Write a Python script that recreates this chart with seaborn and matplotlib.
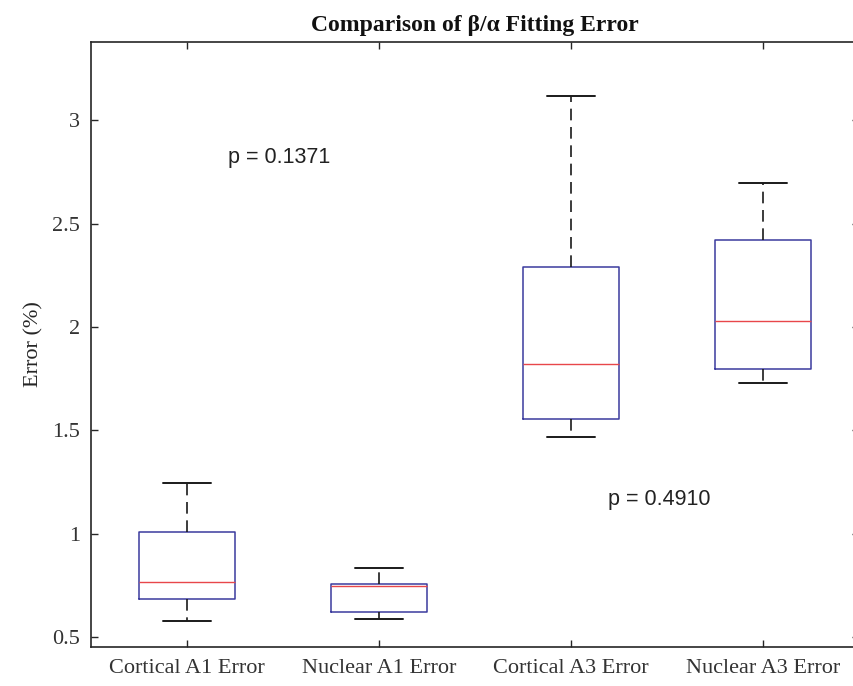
import numpy as np
import pandas as pd
import matplotlib
matplotlib.use("Agg")
import matplotlib.pyplot as plt
import seaborn as sns

# Five-number summaries of the fitting error (%) for each group
categories = ["Cortical A1 Error", "Nuclear A1 Error", "Cortical A3 Error", "Nuclear A3 Error"]
whisker_low = [0.577, 0.587, 1.469, 1.727]
q1 = [0.682, 0.620, 1.555, 1.797]
median = [0.765, 0.748, 1.821, 2.029]
q3 = [1.007, 0.758, 2.291, 2.421]
whisker_high = [1.246, 0.835, 3.116, 2.697]

# p-values of the two group comparisons
p_labels = ["p = 0.1371", "p = 0.4910"]

ytick_vals = [0.5, 1.0, 1.5, 2.0, 2.5, 3.0]
ytick_labels = ["0.5", "1", "1.5", "2", "2.5", "3"]

# Long-form table: five points per group reproduce the quartiles exactly
rows = []
for i, cat in enumerate(categories):
    for v in (whisker_low[i], q1[i], median[i], q3[i], whisker_high[i]):
        rows.append({"group": cat, "error": v})
df = pd.DataFrame(rows)

sns.set_theme(style="white")
plt.rcParams["font.family"] = ["Liberation Serif", "DejaVu Serif"]

fig = plt.figure(figsize=(8.54, 6.86), dpi=100)
ax = fig.add_axes([0.1066, 0.0569, 0.8993, 0.8823])

sns.boxplot(
    data=df, x="group", y="error", order=categories, ax=ax,
    width=0.5, fill=False, color="#3b3b9e", linewidth=1.0,
    whis=(0, 100), showfliers=False,
    boxprops=dict(color="#3b3b9e", linewidth=1.1),
    medianprops=dict(color="#e8474a", linewidth=1.0),
    whiskerprops=dict(color="#1a1a1a", linewidth=1.2, linestyle=(0, (7, 4))),
    capprops=dict(color="#1a1a1a", linewidth=1.4),
)

ax.set_xlim(-0.5, 3.5)
ax.set_ylim(0.452, 3.38)
ax.set_yticks(ytick_vals)
ax.set_yticklabels(ytick_labels)
ax.set_xlabel("")
ax.set_ylabel("Error (%)", fontsize=16, color="#262626", labelpad=6)
ax.set_title("Comparison of β/α Fitting Error", fontsize=17, fontweight="bold",
             color="#111111", pad=8)

for s in ax.spines.values():
    s.set_visible(True)
    s.set_color("#262626")
    s.set_linewidth(1.2)

ax.tick_params(axis="both", which="both", direction="in", length=5, width=1.0,
               color="#262626", labelcolor="#333333", labelsize=16,
               top=True, right=True, left=True, bottom=True)
ax.tick_params(axis="y", pad=8)
ax.tick_params(axis="x", pad=9)

ax.text(0.214, 2.822, p_labels[0], fontsize=15.5, family=["Liberation Sans", "DejaVu Sans"],
        color="#222222", va="center", ha="left")
ax.text(2.19, 1.163, p_labels[1], fontsize=15.5, family=["Liberation Sans", "DejaVu Sans"],
        color="#222222", va="center", ha="left")

fig.savefig("out.png", dpi=100, facecolor="white")
